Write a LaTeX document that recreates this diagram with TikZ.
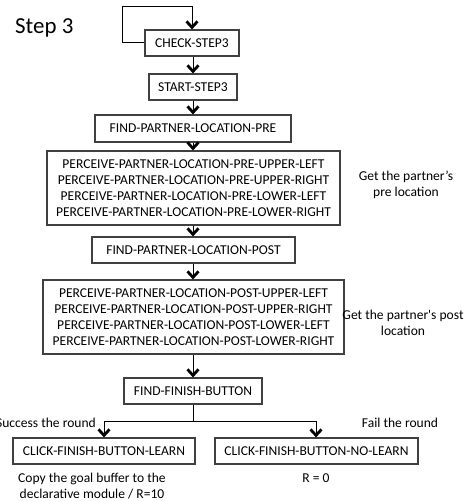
\documentclass[tikz,border=0pt]{standalone}
\usepackage{fontspec}
\setmainfont{Carlito}
\usetikzlibrary{arrows.meta}
\begin{document}
\begin{tikzpicture}[x=1bp,y=-1bp,
  box/.style={draw=black!75,line width=1.1bp,minimum height=26bp,inner sep=2bp,
    font=\fontsize{13.6}{16}\selectfont,align=center},
  note/.style={font=\fontsize{13.6}{16}\selectfont,align=center,inner sep=0pt},
  flow/.style={draw=black,line width=0.9bp,-{Straight Barb[length=6bp,width=11bp,line width=2.8bp]}},
  link/.style={draw=black,line width=0.9bp}]
\useasboundingbox (0,0) rectangle (468,501);

\node[font=\fontsize{23}{27}\selectfont,anchor=west,inner sep=0pt] (title) at (15,28) {Step 3};

\node[box,minimum width=94bp] (check) at (192,43) {CHECK-STEP3};
\node[box,minimum width=88bp] (start) at (193,87) {START-STEP3};
\node[box,minimum width=196bp,minimum height=27bp] (fpre) at (193,128.5) {FIND-PARTNER-LOCATION-PRE};
\node[box,minimum width=293bp,minimum height=74bp] (ppre) at (193.5,188)
  {PERCEIVE-PARTNER-LOCATION-PRE-UPPER-LEFT\\PERCEIVE-PARTNER-LOCATION-PRE-UPPER-RIGHT\\
   PERCEIVE-PARTNER-LOCATION-PRE-LOWER-LEFT\\PERCEIVE-PARTNER-LOCATION-PRE-LOWER-RIGHT};
\node[box,minimum width=203bp] (fpost) at (193.5,250) {FIND-PARTNER-LOCATION-POST};
\node[box,minimum width=301bp,minimum height=74bp] (ppost) at (193.5,317)
  {PERCEIVE-PARTNER-LOCATION-POST-UPPER-LEFT\\PERCEIVE-PARTNER-LOCATION-POST-UPPER-RIGHT\\
   PERCEIVE-PARTNER-LOCATION-POST-LOWER-LEFT\\PERCEIVE-PARTNER-LOCATION-POST-LOWER-RIGHT};
\node[box,minimum width=138bp] (ffb) at (193,391) {FIND-FINISH-BUTTON};
\node[box,minimum width=182bp] (learn) at (104,451) {CLICK-FINISH-BUTTON-LEARN};
\node[box,minimum width=203bp] (nolearn) at (316.5,451) {CLICK-FINISH-BUTTON-NO-LEARN};

% side notes
\node[note] (npre) at (406,185) {Get the partner’s\\pre location};
\node[note] (npost) at (403,323) {Get the partner\textquotesingle s post\\location};
\node[note,anchor=east] (nsucc) at (96,423) {Success the round};
\node[note] (nfail) at (400,423) {Fail the round};
\node[note] (ncopy) at (92,486) {Copy the goal buffer to the\\declarative module / R=10};
\node[note] (nzero) at (316,478) {R = 0};

% loop back into CHECK-STEP3
\coordinate (l1) at (122,42);
\coordinate (l2) at (122,6);
\coordinate (l3) at (192,6);
\draw[link] (check.west |- l1) -- (l1) -- (l2) -- (l3);
\draw[flow] (l3) -- (check.north);

% main chain
\draw[flow] (check.south -| start) -- (start.north);
\draw[flow] (start.south) -- (start.south |- fpre.north);
\draw[flow] (fpre.south) -- (fpre.south |- ppre.north);
\draw[flow] (fpre.south |- ppre.south) -- (fpre.south |- fpost.north);
\draw[flow] (fpre.south |- fpost.south) -- (fpre.south |- ppost.north);
\draw[flow] (fpre.south |- ppost.south) -- (ffb.north);

% branch
\coordinate (bmid) at (193,421);
\coordinate (bl) at (104,421);
\coordinate (br) at (316,421);
\draw[link] (ffb.south) -- (bmid);
\draw[link] (bl) -- (br);
\draw[flow] (bl) -- (learn.north);
\draw[flow] (br) -- (br |- nolearn.north);
\end{tikzpicture}
\end{document}
